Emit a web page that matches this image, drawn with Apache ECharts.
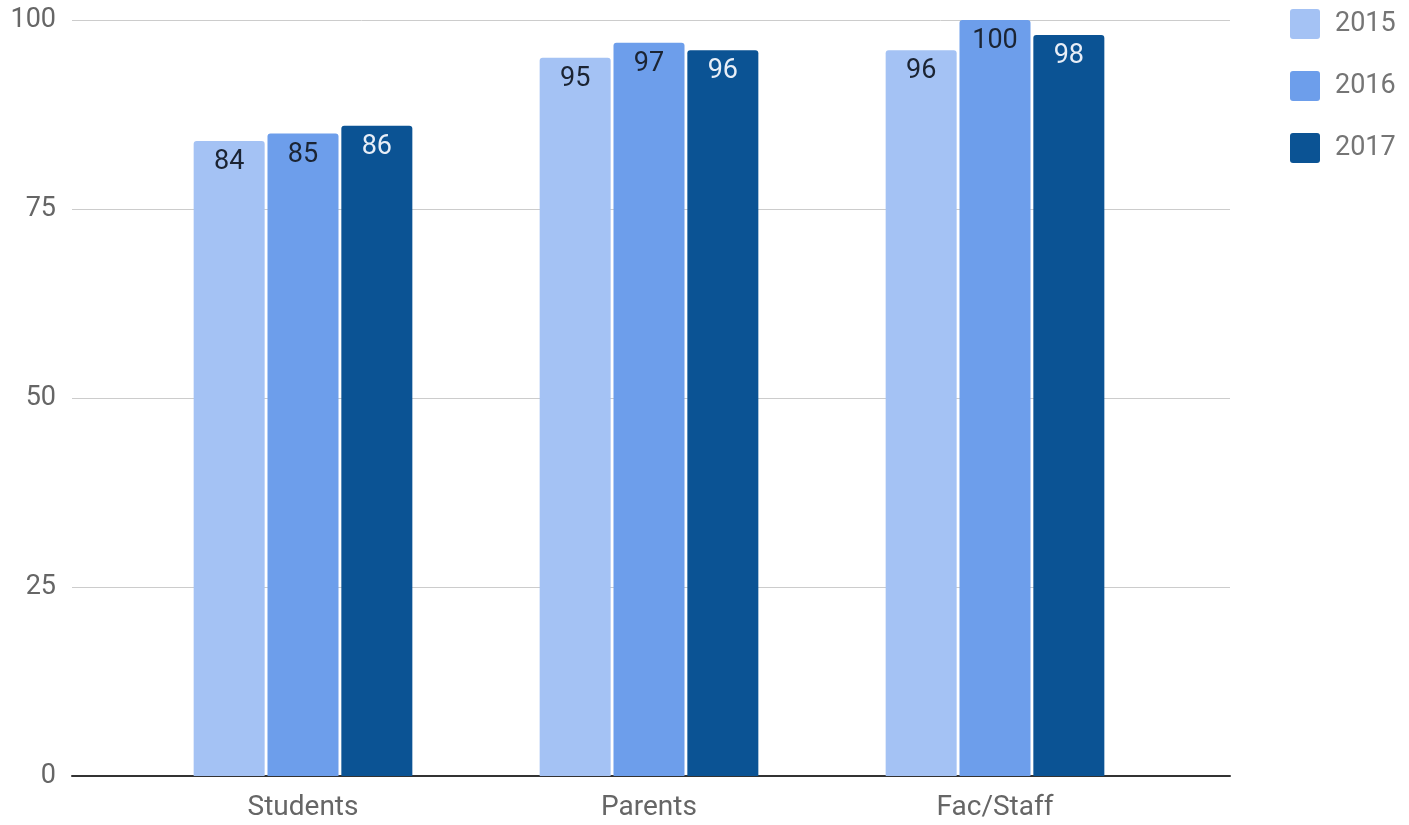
<!DOCTYPE html>
<html>
<head>
<meta charset="utf-8">
<script src="https://cdn.jsdelivr.net/npm/echarts@6/dist/echarts.min.js"></script>
<style>
html,body{margin:0;padding:0;background:#fff;}
#chart{width:1409px;height:825px;}
</style>
</head>
<body>
<div id="chart"></div>
<script>
const categories = ['Students', 'Parents', 'Fac/Staff'];
const seriesNames = ['2015', '2016', '2017'];
const values2015 = [84, 95, 96];
const values2016 = [85, 97, 100];
const values2017 = [86, 96, 98];
const yTicks = [0, 25, 50, 75, 100];

const colors = ['#a4c2f4', '#6d9eeb', '#0b5394'];
const labelColors = ['#1b2433', '#1b2433', '#e8eef7'];
const allValues = [values2015, values2016, values2017];

const chart = echarts.init(document.getElementById('chart'));
const font = 'Roboto, "Noto Sans", sans-serif';

chart.setOption({
  animation: false,
  textStyle: { fontFamily: font },
  legend: {
    orient: 'vertical',
    left: 1285,
    top: 4,
    itemWidth: 30,
    itemHeight: 30,
    itemGap: 32,
    icon: 'path://M3,0 L27,0 Q30,0 30,3 L30,27 Q30,30 27,30 L3,30 Q0,30 0,27 L0,3 Q0,0 3,0 Z',
    data: seriesNames,
    textStyle: { fontSize: 27, color: '#757575', fontFamily: font, padding: [0, 0, 0, 10] }
  },
  grid: [
    { left: 72, right: 179, top: 20, bottom: 49, containLabel: false },
    { left: 130, right: 241, top: 20, bottom: 49, containLabel: false }
  ],
  xAxis: [
    {
      gridIndex: 0, type: 'value', min: 0, max: 1,
      axisLine: { show: true, onZero: false, lineStyle: { color: '#333', width: 2 } },
      axisTick: { show: false }, axisLabel: { show: false }, splitLine: { show: false }
    },
    {
      gridIndex: 1, type: 'category', data: categories,
      axisLine: { show: false }, axisTick: { show: false },
      axisLabel: { fontSize: 28, color: '#666', margin: 18, fontFamily: font }
    }
  ],
  yAxis: [
    {
      gridIndex: 0, type: 'value', min: yTicks[0], max: yTicks[yTicks.length - 1], interval: 25,
      axisLine: { show: false }, axisTick: { show: false },
      axisLabel: { fontSize: 27, color: '#666', margin: 16, fontFamily: font },
      splitLine: { lineStyle: { color: '#cccccc', width: 1 } }
    },
    {
      gridIndex: 1, type: 'value', min: 0, max: 100, interval: 25, show: false,
      splitLine: { show: false }
    }
  ],
  series: seriesNames.map((name, i) => ({
    name: name,
    type: 'bar',
    xAxisIndex: 1,
    yAxisIndex: 1,
    data: allValues[i],
    barWidth: 71,
    barGap: '4%',
    itemStyle: { color: colors[i], borderRadius: [3, 3, 0, 0] },
    label: {
      show: true,
      position: 'insideTop',
      distance: 8,
      fontSize: 27,
      color: labelColors[i],
      fontFamily: font
    }
  }))
});
</script>
</body>
</html>
